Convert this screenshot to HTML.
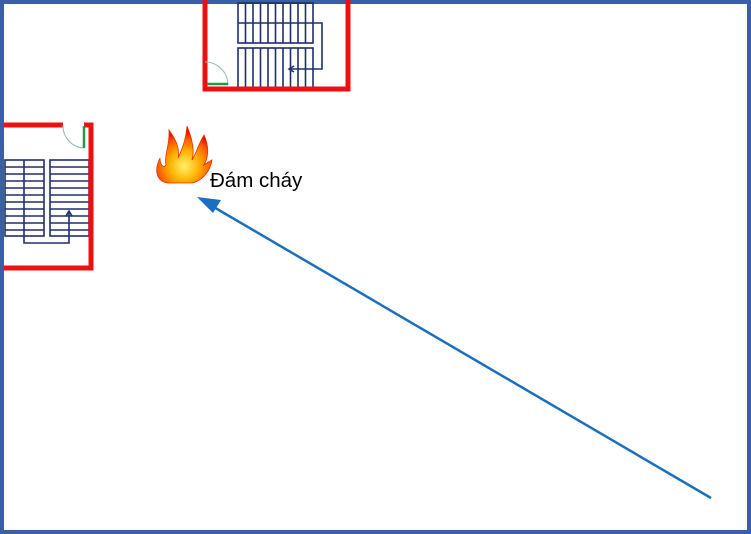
<!DOCTYPE html>
<html><head><meta charset="utf-8"><style>
html,body{margin:0;padding:0;background:#fff;}
svg{display:block;}
</style></head><body>
<svg width="751" height="534" viewBox="0 0 751 534" xmlns="http://www.w3.org/2000/svg">
<defs>
<radialGradient id="fg" cx="0.5" cy="0.7" r="0.6">
<stop offset="0" stop-color="#fff36a"/>
<stop offset="0.45" stop-color="#ffb000"/>
<stop offset="0.8" stop-color="#ff5a00"/>
<stop offset="1" stop-color="#e01000"/>
</radialGradient>
</defs>
<rect x="0" y="0" width="751" height="534" fill="#fff"/>
<rect x="2" y="2" width="747" height="530" fill="none" stroke="#3a5ea8" stroke-width="4"/>

<g stroke="#1f2f6e" stroke-width="1.6" fill="none">
<rect x="238" y="3" width="75" height="40"/>
<rect x="238" y="48" width="75" height="40"/>
<path d="M245.5 3V43M253 3V43M260.5 3V43M268 3V43M275.5 3V43M283 3V43M290.5 3V43M298 3V43M305.5 3V43"/>
<path d="M245.5 48V88M253 48V88M260.5 48V88M268 48V88M275.5 48V88M283 48V88M290.5 48V88M298 48V88M305.5 48V88"/>
<path d="M238 23H322V69H290"/>
<path d="M294 66L289 69L294 72"/>
</g>
<path d="M205 0V89H348V0" stroke="#ee1010" stroke-width="5" fill="none"/>
<path d="M205 62A23 23 0 0 1 228 85" stroke="#8fbfae" stroke-width="1" fill="none"/>
<path d="M207 84H228" stroke="#1f9a4a" stroke-width="2.5"/>

<g stroke="#1f2f6e" stroke-width="1.6" fill="none">
<rect x="5" y="160" width="39" height="76"/>
<rect x="50" y="160" width="39" height="76"/>
<path d="M5 167H44M5 174H44M5 181H44M5 188H44M5 195H44M5 202H44M5 209H44M5 216H44M5 223H44M5 230H44"/>
<path d="M50 167H89M50 174H89M50 181H89M50 188H89M50 195H89M50 202H89M50 209H89M50 216H89M50 223H89M50 230H89"/>
<path d="M24 160V243H69V212"/>
<path d="M66 216L69 211L72 216"/>
</g>
<path d="M4 125H63M84 125H91V268H4" stroke="#ee1010" stroke-width="5" fill="none"/>
<path d="M63 125A22 22 0 0 0 84 148" stroke="#8fbfae" stroke-width="1" fill="none"/>
<path d="M84 126V148" stroke="#1f9a4a" stroke-width="2.5"/>

<path d="M168 183C158 182 153 172 160 158C160 166 164 168 166 165C164 155 170 145 169 130C176 140 180 148 178 158C182 150 186 140 187 126C192 138 195 150 192 160C196 154 198 145 204 135C210 148 208 160 203 166C206 163 209 162 212 160C210 172 202 181 192 183Z" fill="url(#fg)" stroke="#e83000" stroke-width="0.8"/>
<text x="210" y="187" font-family="Liberation Sans, sans-serif" font-size="20.5" fill="#000">Đám cháy</text>

<line x1="711" y1="498" x2="212" y2="206" stroke="#1a6fbf" stroke-width="2.5"/>
<path d="M197 197L221 200L213 213Z" fill="#1a6fbf"/>
</svg>
</body></html>
